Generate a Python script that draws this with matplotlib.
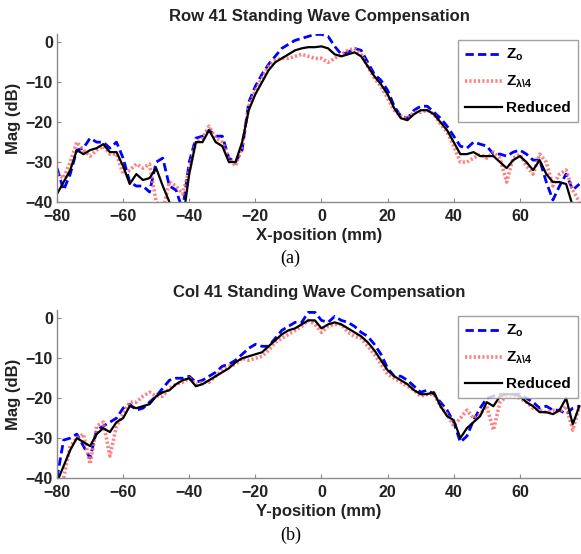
import numpy as np
import matplotlib
matplotlib.use("Agg")
import matplotlib.pyplot as plt

plt.rcParams['font.family'] = ['Liberation Sans', 'DejaVu Sans']
plt.rcParams['mathtext.fontset'] = 'custom'
plt.rcParams['mathtext.rm'] = 'Liberation Sans:bold'
plt.rcParams['mathtext.it'] = 'Liberation Sans:bold'
plt.rcParams['mathtext.bf'] = 'Liberation Sans:bold'

pos = list(range(-80, 80, 2))

row_zo = [-31.5, -37, -33, -27, -26.5, -24, -25, -25, -26.5, -25, -29, -35, -36, -36, -37.5, -30,
          -29, -36, -37, -42, -30, -24, -23.5, -22, -23.5, -23.5, -29, -30, -27, -15, -11, -8,
          -5.5, -3.5, -1.5, -0.5, 0.5, 1, 1.5, 2, 2, 1.5, -1, -3, -2.5, -1.5, -2, -5, -8, -9.5,
          -12, -16, -18.5, -19, -17, -16, -16, -17.5, -19, -21, -23.5, -26, -26.5, -25, -25.5, -26,
          -28, -28, -28.5, -27.5, -27, -28, -29.5, -29.5, -35, -39.5, -36, -33, -37, -35.5]
row_zl4 = [-33, -34, -30, -25, -27, -28.5, -27, -26, -28, -28, -33, -32, -30.5, -31.5, -30.5, -40,
           -42, -35, -36, -38, -32, -25, -24, -21, -24, -25, -29, -31, -26, -16, -12, -9,
           -6, -4.5, -4, -4, -3.5, -3, -3.5, -4, -4, -5, -4, -3, -2, -1.5, -3, -6, -9, -11,
           -14, -17, -18.5, -19, -17.5, -17.5, -17, -18, -20.5, -22.5, -26, -30, -30, -29, -28, -29,
           -27.5, -29, -35, -29, -28, -31, -33, -28, -30, -36, -33, -32, -37, -40]
row_red = [-38, -35, -32, -27, -28, -27, -26.5, -25.5, -27.5, -27.5, -31, -35.5, -33, -34.5, -34, -31.5,
           -36, -40, -45, -45, -33, -25, -25, -22, -25, -26, -30, -30, -25, -17, -13, -10,
           -7, -5, -4, -3, -2, -1.5, -1.2, -1.2, -1, -1.5, -3, -3.5, -3, -2.5, -3.5, -6, -8.5, -10.5,
           -13, -16.5, -19, -19.5, -18, -17, -17, -18, -20, -22, -25, -28, -28, -27.5, -28.5, -28.5,
           -28.5, -30, -31.5, -29.5, -28.5, -30, -32, -29.5, -33, -35, -35, -35.5, -41, -40.5]

col_zo = [-40, -30.5, -30, -29, -32, -35, -28, -27, -26, -25, -22.5, -21.5, -23, -22.5, -21, -19.5,
          -17.5, -15.5, -15, -15, -14.5, -16, -15.5, -14.5, -13.5, -12, -11.5, -10.5, -9, -7.5, -6.5, -7,
          -7, -5, -3, -2, -1, -1, 1.5, 1.5, -0.5, -1, 0.5, -0.5, -1, -2, -3.5, -4.5, -6.5, -9,
          -12.5, -14.5, -14.5, -15.5, -17, -18.5, -18, -19, -21, -23, -26, -31, -29.5, -25.5, -22.5, -20,
          -19.5, -19, -19, -19, -19, -20, -21, -22.5, -22, -23, -23, -24, -22.5, -22]
col_zl4 = [-44, -40, -32, -30, -29, -36.5, -27, -26, -34.5, -27, -24, -21, -21, -19.5, -18.5, -19.5,
           -19.5, -17.5, -16.5, -16, -15, -16.5, -16, -16, -14.5, -13, -12, -11.5, -10, -10.5, -10, -9.5,
           -8, -6, -5, -4, -3, -2, -0.5, -1.5, -3.5, -2, -1.5, -1.5, -3.5, -4.5, -5, -7, -9, -11.5,
           -14, -15, -16, -17, -18, -19.5, -19, -19, -22, -24, -27, -25, -23, -25, -24, -22,
           -28, -21, -19.5, -19.5, -20, -21, -22.5, -23, -23.5, -23, -23.5, -22, -28, -22]
col_red = [-41, -37, -33, -30, -31, -32, -29, -27.5, -28.5, -26, -25, -22, -22.5, -22, -21.5, -19.5,
           -18.5, -18, -16.5, -15.5, -15, -17, -16.5, -15.5, -14.5, -13.5, -12.5, -11, -10, -9.5, -9, -8.5,
           -7, -5.5, -4, -3, -2.5, -1.5, -0.5, -0.5, -2.5, -1.5, -1, -1.5, -2.5, -3.5, -4.5, -6, -8, -10.5,
           -13, -14.5, -15.5, -16.5, -18, -19, -19, -18.5, -22, -24.5, -25.5, -30, -27.5, -26, -24.5, -21,
           -22, -19.5, -19, -19, -19.5, -21, -22, -23.5, -23.5, -24, -23, -20, -26.5, -22]

titles = ["Row 41 Standing Wave Compensation", "Col 41 Standing Wave Compensation"]
xlabels = ["X-position (mm)", "Y-position (mm)"]
panel_tags = ["(a)", "(b)"]
legend_labels = [r"Z$_\mathrm{o}$", r"Z$_{\lambda\backslash4}$", "Reduced"]

W, H = 581, 554
fig = plt.figure(figsize=(W / 100, H / 100), dpi=100)

axes_px = [(57, 34, 581, 202), (57, 310, 581, 478)]
data = [(row_zo, row_zl4, row_red), (col_zo, col_zl4, col_red)]
tag_y = [258, 535]

for i in range(2):
    l, t, r, b = axes_px[i]
    ax = fig.add_axes([l / W, 1 - b / H, (r - l) / W, (b - t) / H])
    zo, zl, rd = data[i]
    ax.plot(pos, zo, color='#0000ff', linestyle=(0, (3, 1.5)), lw=2.0, label=legend_labels[0])
    ax.plot(pos, zl, color='#ff6a6a', linestyle=(0, (0.6, 0.6)), lw=2.6, alpha=0.85, label=legend_labels[1])
    ax.plot(pos, rd, color='black', lw=1.6, label=legend_labels[2])
    ax.set_xlim(-80, 78.5)
    ax.set_ylim(-40, 2.1)
    ax.set_xticks([-80, -60, -40, -20, 0, 20, 40, 60])
    ax.set_yticks([-40, -30, -20, -10, 0])
    for s in ['top', 'right']:
        ax.spines[s].set_visible(False)
    for s in ['left', 'bottom']:
        ax.spines[s].set_color('#8a8a8a')
        ax.spines[s].set_linewidth(1.0)
    ax.tick_params(direction='in', length=3, color='#8a8a8a', labelsize=11.5)
    ax.tick_params(axis='x', pad=5)
    ax.tick_params(axis='y', pad=3)
    for lab in ax.get_xticklabels() + ax.get_yticklabels():
        lab.set_fontweight('bold')
        lab.set_color('#222222')
    ax.set_title(titles[i], fontsize=12, fontweight='bold', pad=9, color='#222222')
    ax.set_xlabel(xlabels[i], fontsize=12, fontweight='bold', labelpad=3, color='#222222')
    ax.set_ylabel("Mag (dB)", fontsize=12, fontweight='bold', labelpad=3, color='#222222')
    leg = ax.legend(loc='upper right', bbox_to_anchor=(0.994, 0.964),
                    prop={'weight': 'bold', 'size': 11}, frameon=True, fancybox=False,
                    edgecolor='#8a8a8a', handlelength=2.4, handletextpad=0.3,
                    borderpad=0.45, labelspacing=0.7, borderaxespad=0)
    leg.get_frame().set_linewidth(1.0)
    fig.text(0.5, 1 - tag_y[i] / H, panel_tags[i], ha='center', va='center',
             fontsize=13, family='Liberation Serif')

fig.savefig("out.png", dpi=100)
